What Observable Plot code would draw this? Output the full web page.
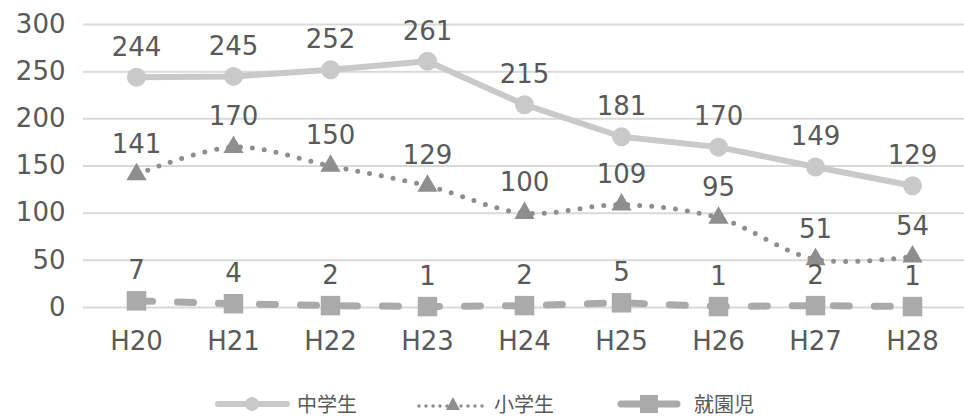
<!DOCTYPE html>
<html><head><meta charset="utf-8">
<script src="https://cdn.jsdelivr.net/npm/d3@7"></script>
<script src="https://cdn.jsdelivr.net/npm/@observablehq/plot@0.6"></script>
<style>
body{margin:0;background:#fff;font-family:"DejaVu Sans","Noto Sans CJK JP",sans-serif;overflow:hidden;}
#chart svg{display:block;}
#legend{position:relative;width:964px;height:24px;margin-top:22px;color:#595959;font-size:20px;line-height:24px;font-family:"Noto Sans CJK JP",sans-serif;}
.item{position:absolute;top:0;height:24px;display:flex;align-items:center;}
.item svg{margin-right:7px;display:block;}
</style></head><body>
<div id="chart"></div>
<div id="legend"></div>
<script>
const years = ["H20","H21","H22","H23","H24","H25","H26","H27","H28"];
const chugaku = [244,245,252,261,215,181,170,149,129];
const shogaku = [141,170,150,129,100,109,95,51,54];
const shuen = [7,4,2,1,2,5,1,2,1];
const yTicks = [0,50,100,150,200,250,300];
const seriesNames = ["中学生","小学生","就園児"];

const c1 = "#c9c9c9", c2 = "#8e8e8e", c3 = "#aaaaaa", txt = "#595959";
const d1 = years.map((y,i)=>({year:y, v:chugaku[i]}));
const d2 = years.map((y,i)=>({year:y, v:shogaku[i]}));
const d3s = years.map((y,i)=>({year:y, v:shuen[i]}));
const fs = 26;

const chart = Plot.plot({
  width: 964, height: 370,
  marginLeft: 83, marginRight: 0, marginTop: 24, marginBottom: 63,
  style: {fontFamily: '"DejaVu Sans","Noto Sans CJK JP",sans-serif', fontSize: fs + "px", color: txt, background: "#fff"},
  x: {type: "point", domain: years, padding: 0.5, label: null},
  y: {domain: [0,300], ticks: yTicks, label: null},
  marks: [
    Plot.ruleY(yTicks, {stroke: "#d9d9d9", strokeWidth: 2}),
    Plot.axisY({ticks: yTicks, tickSize: 0, tickPadding: 18, fontSize: fs, fill: txt}),
    Plot.axisX({tickSize: 0, tickPadding: 24, fontSize: fs, fill: txt}),
    Plot.line(d3s, {x: "year", y: "v", stroke: c3, strokeWidth: 7, strokeDasharray: "16 25", strokeLinecap: "round"}),
    Plot.dot(d3s, {x: "year", y: "v", symbol: "square", r: 11, fill: c3}),
    Plot.line(d2, {x: "year", y: "v", stroke: c2, strokeWidth: 5, strokeDasharray: "0 12", strokeLinecap: "round", curve: "catmull-rom"}),
    Plot.dot(d2, {x: "year", y: "v", symbol: "triangle", r: 7.5, fill: c2}),
    Plot.line(d1, {x: "year", y: "v", stroke: c1, strokeWidth: 6}),
    Plot.dot(d1, {x: "year", y: "v", r: 9.5, fill: c1}),
    Plot.text(d1, {x: "year", y: "v", text: "v", dy: -30, fontSize: fs, fill: txt}),
    Plot.text(d2, {x: "year", y: "v", text: "v", dy: -30, fontSize: fs, fill: txt}),
    Plot.text(d3s, {x: "year", y: "v", text: "v", dy: -30, fontSize: fs, fill: txt})
  ]
});
document.getElementById("chart").appendChild(chart);

const legendPos = [215, 417, 617];
const sw = [
  `<svg width="75" height="20"><line x1="3" y1="10" x2="72" y2="10" stroke="${c1}" stroke-width="6" stroke-linecap="round"/><circle cx="37" cy="10" r="7" fill="${c1}"/></svg>`,
  `<svg width="70" height="20"><line x1="2" y1="12" x2="68" y2="12" stroke="${c2}" stroke-width="3.5" stroke-dasharray="0 7" stroke-linecap="round"/><path d="M36,3 L43,16 L29,16 Z" fill="${c2}"/></svg>`,
  `<svg width="70" height="20"><line x1="4" y1="10" x2="60" y2="10" stroke="${c3}" stroke-width="7" stroke-linecap="round"/><rect x="23" y="1" width="18" height="18" fill="${c3}"/></svg>`
];
document.getElementById("legend").innerHTML = seriesNames.map((n,i)=>`<div class="item" style="left:${legendPos[i]}px">${sw[i]}<span>${n}</span></div>`).join("");
</script>
</body></html>
